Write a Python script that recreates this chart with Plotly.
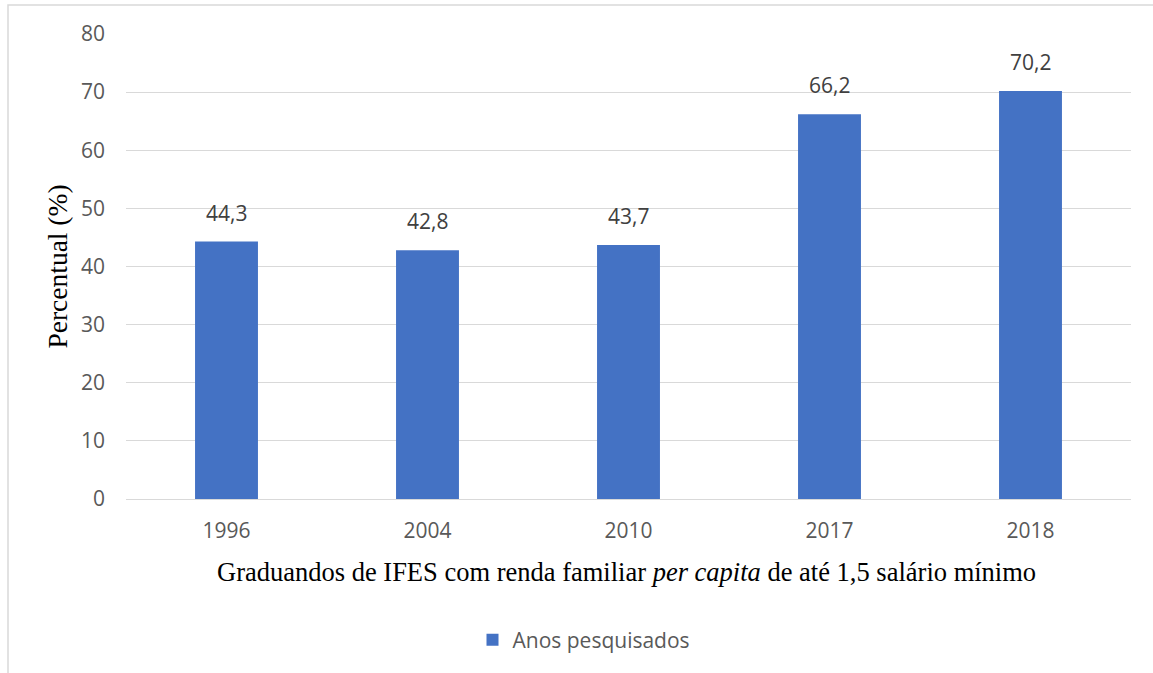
import plotly.graph_objects as go

years = ["1996", "2004", "2010", "2017", "2018"]
values = [44.3, 42.8, 43.7, 66.2, 70.2]
y_ticks = [0, 10, 20, 30, 40, 50, 60, 70, 80]

bar_color = "#4472C4"
sans = "Open Sans"
serif = "Liberation Serif"

fig = go.Figure()
fig.add_trace(go.Bar(
    x=years, y=values, name="Anos pesquisados",
    marker=dict(color=bar_color, line=dict(width=0)),
))

for i, v in enumerate(values):
    fig.add_annotation(
        x=i, y=v, text=f"{v:.1f}".replace(".", ","), showarrow=False,
        yanchor="bottom", yshift=13,
        font=dict(family=sans, size=21, color="#404040"),
    )

fig.add_annotation(
    xref="paper", yref="paper", x=(626 - 126) / 1005, y=(499 - 572) / 465, yanchor="middle",
    text="Graduandos de IFES com renda familiar <i>per capita</i> de até 1,5 salário mínimo",
    showarrow=False, font=dict(family=serif, size=26.5, color="#000000"),
)

fig.add_shape(type="rect", xref="paper", yref="paper",
              x0=(8 - 126) / 1005, x1=(1165 - 126) / 1005,
              y0=(499 - 700) / 465, y1=(499 - 5) / 465,
              line=dict(color="#d9d9d9", width=1.5), layer="below")

fig.update_layout(
    width=1153, height=673,
    margin=dict(l=126, r=22, t=34, b=174),
    paper_bgcolor="white", plot_bgcolor="white",
    bargap=0.687,
    showlegend=True,
    legend=dict(orientation="h", x=(584 - 126) / 1005, xanchor="center",
                y=(499 - 640) / 465, yanchor="middle",
                font=dict(family=sans, size=21, color="#595959")),
    xaxis=dict(type="category", range=[-0.5, len(years) - 0.5],
               showgrid=False, showline=False, ticks="",
               tickfont=dict(family=sans, size=21, color="#595959"),
               ticklabelstandoff=17),
    yaxis=dict(range=[0, 80], tickvals=y_ticks, showgrid=True, gridcolor="#d9d9d9",
               gridwidth=1, zeroline=True, zerolinecolor="#d9d9d9", zerolinewidth=1,
               tickfont=dict(family=sans, size=21, color="#595959"),
               ticklabelstandoff=20,
               title=dict(text="Percentual (%)", font=dict(family=serif, size=27.5, color="#000000"),
                          standoff=5)),
)

fig.write_html("out.html")
